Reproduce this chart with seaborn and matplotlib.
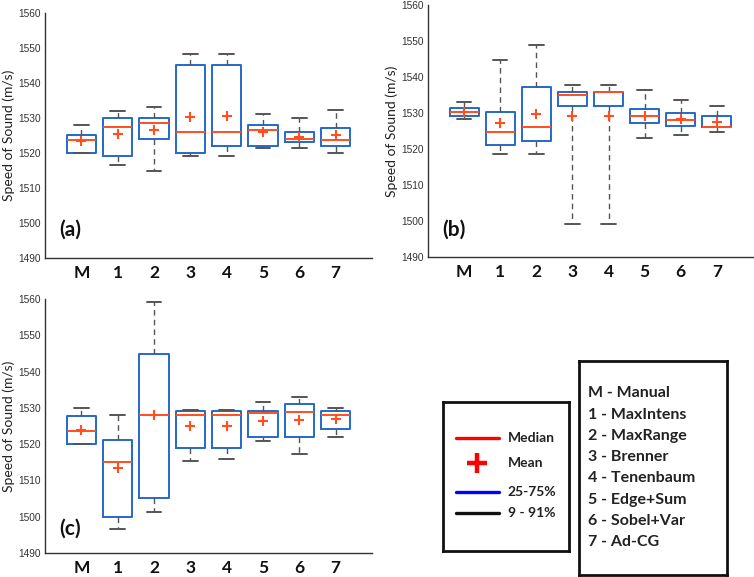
import matplotlib
matplotlib.use('Agg')
import matplotlib.pyplot as plt
import numpy as np
import pandas as pd
import seaborn as sns

# Kategorie (metody) - M = manual, 1-7 = autofocus metody
methods = ['M', '1', '2', '3', '4', '5', '6', '7']

# Panel (a) (9%, 25%, median, 75%, 91%, průměr)
a_lo = [1520.0, 1516.6, 1514.8, 1519.0, 1519.0, 1521.5, 1521.3, 1519.9]
a_q1 = [1520.0, 1519.0, 1524.0, 1520.0, 1522.1, 1522.1, 1523.0, 1522.1]
a_med = [1523.6, 1527.4, 1528.7, 1526.1, 1526.1, 1526.6, 1524.1, 1523.6]
a_q3 = [1525.0, 1530.1, 1530.1, 1545.1, 1545.1, 1528.0, 1526.0, 1527.0]
a_hi = [1528.0, 1531.9, 1533.0, 1548.2, 1548.2, 1531.1, 1530.0, 1532.3]
a_mean = [1523.4, 1525.4, 1526.6, 1530.4, 1530.6, 1526.1, 1524.6, 1525.0]

# Panel (b)
b_lo = [1528.4, 1518.5, 1518.7, 1499.3, 1499.3, 1523.1, 1523.9, 1524.7]
b_q1 = [1529.3, 1521.2, 1522.2, 1532.0, 1532.0, 1527.2, 1526.3, 1526.2]
b_med = [1530.3, 1524.6, 1526.2, 1535.0, 1535.7, 1529.3, 1528.0, 1526.2]
b_q3 = [1531.3, 1530.2, 1537.3, 1535.9, 1535.9, 1531.0, 1529.9, 1529.3]
b_hi = [1533.0, 1544.6, 1549.0, 1537.8, 1537.8, 1536.3, 1533.5, 1531.9]
b_mean = [1530.4, 1527.2, 1529.7, 1529.3, 1529.3, 1529.3, 1528.4, 1527.4]

# Panel (c)
c_lo = [1520.0, 1496.7, 1501.4, 1515.3, 1515.9, 1520.9, 1517.3, 1522.0]
c_q1 = [1520.0, 1500.0, 1505.1, 1519.0, 1519.0, 1522.0, 1521.9, 1524.1]
c_med = [1523.5, 1515.0, 1528.0, 1528.0, 1528.0, 1528.6, 1528.9, 1528.0]
c_q3 = [1527.8, 1521.1, 1544.9, 1529.0, 1529.0, 1529.0, 1531.0, 1529.0]
c_hi = [1529.9, 1527.9, 1559.3, 1529.5, 1529.5, 1531.5, 1533.0, 1529.9]
c_mean = [1524.0, 1513.4, 1528.0, 1525.0, 1525.0, 1526.5, 1526.7, 1527.0]

legend_methods = ['M - Manual', '1 - MaxIntens', '2 - MaxRange', '3 - Brenner',
                  '4 - Tenenbaum', '5 - Edge+Sum', '6 - Sobel+Var', '7 - Ad-CG']

box_blue = '#2468c8'
med_red = '#ff4f1f'
whisk_gray = '#555555'
axis_gray = '#333333'


def draw_panel(ax, lo, q1, med, q3, hi, mean, tag, tag_xy):
    # 5 bodů na kategorii -> percentily 0/25/50/75/100 sedí přesně na hodnoty
    rows = []
    for i, m in enumerate(methods):
        for v in (lo[i], q1[i], med[i], q3[i], hi[i]):
            rows.append({'method': m, 'speed': v})
    df = pd.DataFrame(rows)

    sns.boxplot(data=df, x='method', y='speed', order=methods, whis=(0, 100), width=0.8,
                fill=False, color=box_blue, linewidth=1.4, showfliers=False,
                medianprops=dict(color=med_red, linewidth=1.4),
                whiskerprops=dict(color=whisk_gray, linestyle=(0, (4, 3)), linewidth=1.0),
                capprops=dict(color=whisk_gray, linewidth=1.4),
                ax=ax)
    sns.scatterplot(x=np.arange(len(methods)), y=mean, marker='+', s=60, color=med_red,
                    linewidth=1.5, ax=ax, zorder=5, legend=False)

    ax.set_xlim(-1, 8)
    ax.set_ylim(1490, 1560)
    ax.set_yticks(range(1490, 1561, 10))
    ax.set_yticklabels([str(v) for v in range(1490, 1561, 10)], fontsize=7.3,
                       color=axis_gray, family='Liberation Sans')
    ax.set_xticks(range(-1, 9))
    ax.set_xticklabels([''] + methods + [''], fontsize=12.5, fontweight='bold',
                       family='Lato', color='#111111')
    ax.set_xlabel('')
    ax.set_ylabel('Speed of Sound (m/s)', fontsize=10, family='Lato', color='#222222', labelpad=2)
    ax.tick_params(direction='in', length=3, width=0.8, color=axis_gray)
    ax.tick_params(axis='y', pad=3)
    ax.tick_params(axis='x', pad=5)
    sns.despine(ax=ax)
    for s in ('left', 'bottom'):
        ax.spines[s].set_color(axis_gray)
        ax.spines[s].set_linewidth(1.0)
    ax.text(tag_xy[0], tag_xy[1], tag, transform=ax.transAxes, fontsize=15,
            fontweight='bold', family='Lato', va='center', ha='left', color='#111111')


sns.set_theme(style='white')
fig = plt.figure(figsize=(7.54, 5.77), dpi=100)

ax_a = fig.add_axes([0.0597, 0.5529, 0.4337, 0.4246])
ax_b = fig.add_axes([0.5676, 0.5546, 0.4310, 0.4367])
ax_c = fig.add_axes([0.0597, 0.0416, 0.4337, 0.4402])

draw_panel(ax_a, a_lo, a_q1, a_med, a_q3, a_hi, a_mean, '(a)', (0.045, 0.114))
draw_panel(ax_b, b_lo, b_q1, b_med, b_q3, b_hi, b_mean, '(b)', (0.043, 0.107))
draw_panel(ax_c, c_lo, c_q1, c_med, c_q3, c_hi, c_mean, '(c)', (0.045, 0.094))

# Legenda 1 - význam značek
leg1 = fig.add_axes([0.5875, 0.0451, 0.167, 0.258])
leg1.set_xlim(0, 1)
leg1.set_ylim(0, 1)
leg1.set_xticks([])
leg1.set_yticks([])
for s in leg1.spines.values():
    s.set_linewidth(2)
    s.set_color('#111111')
leg1.plot([0.103, 0.444], [0.758, 0.758], color='#ff0000', lw=2.4)
leg1.plot([0.273], [0.592], marker='+', markersize=14, mew=3.2, color='#ff0000')
leg1.plot([0.103, 0.444], [0.394, 0.394], color='#0000ff', lw=2.4)
leg1.plot([0.103, 0.444], [0.253, 0.253], color='#111111', lw=2.4)
for y, t in zip([0.758, 0.592, 0.394, 0.253], ['Median', 'Mean', '25-75%', '9 - 91%']):
    leg1.text(0.516, y, t, fontsize=10, fontweight='bold', family='Lato',
              va='center', ha='left', color='#222222')

# Legenda 2 - seznam metod
leg2 = fig.add_axes([0.768, 0.0035, 0.196, 0.371])
leg2.set_xlim(0, 1)
leg2.set_ylim(0, 1)
leg2.set_xticks([])
leg2.set_yticks([])
for s in leg2.spines.values():
    s.set_linewidth(2)
    s.set_color('#111111')
for i, t in enumerate(legend_methods):
    leg2.text(0.061, 0.849 - i * 0.0994, t, fontsize=11.5, fontweight='bold', family='Lato',
              va='center', ha='left', color='#222222')

fig.savefig('out.png', dpi=100)
